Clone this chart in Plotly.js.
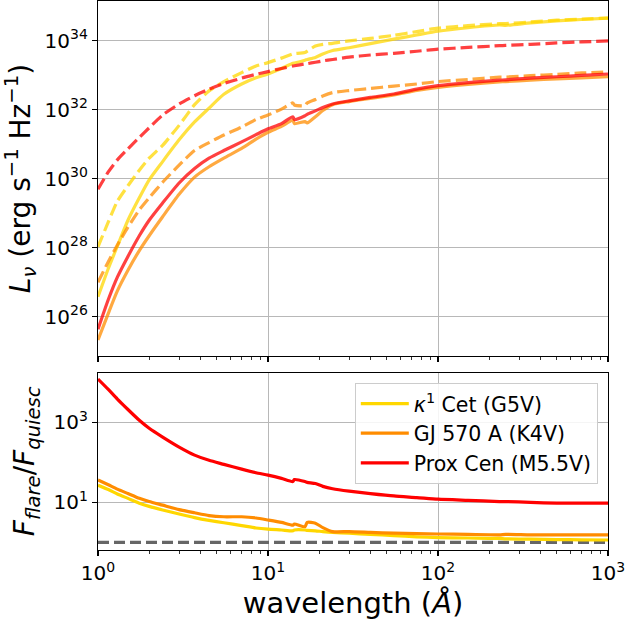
<!DOCTYPE html>
<html>
<head>
<meta charset="utf-8">
<script src="https://cdn.plot.ly/plotly-3.0.1.min.js"></script>
<style>html,body{margin:0;padding:0;background:#fff;}#chart{width:627px;height:626px;}</style>
</head>
<body>
<div id="chart"></div>
<script>
// wavelength grid (Angstrom)
const wavelength = [1, 1.15, 1.3, 1.5, 1.75, 2, 2.4, 3, 3.7, 4.5, 5.5, 7, 8.5, 10, 12, 14, 14.3, 16.5, 17, 19, 21, 24, 30, 40, 55, 75, 100, 150, 230, 250, 350, 500, 700, 1000];

// log10 of L_nu (erg s^-1 Hz^-1)
const logL_k1cet_quiesc = [26.58, 27.4, 28.05, 28.8, 29.45, 29.97, 30.5, 31.13, 31.65, 32.05, 32.45, 32.75, 32.93, 33.04, 33.2, 33.35, 33.36, 33.44, 33.46, 33.52, 33.62, 33.72, 33.80, 33.92, 34.05, 34.17, 34.28, 34.38, 34.46, 34.45, 34.52, 34.58, 34.62, 34.66];
const logL_k1cet_flare  = [28.03, 28.75, 29.35, 29.8, 30.25, 30.6, 30.97, 31.55, 32.15, 32.55, 32.82, 33.08, 33.27, 33.37, 33.5, 33.62, 33.63, 33.66, 33.7, 33.85, 33.9, 33.93, 34.0, 34.07, 34.16, 34.27, 34.37, 34.44, 34.50, 34.50, 34.55, 34.6, 34.63, 34.66];
const logL_gj570_quiesc = [25.33, 26.1, 26.75, 27.35, 27.92, 28.35, 28.9, 29.55, 30.05, 30.35, 30.6, 30.88, 31.15, 31.35, 31.52, 31.7, 31.6, 31.66, 31.62, 31.8, 31.98, 32.15, 32.24, 32.33, 32.43, 32.56, 32.65, 32.74, 32.81, 32.82, 32.86, 32.9, 32.93, 32.96];
const logL_gj570_flare  = [27.0, 27.6, 28.08, 28.6, 29.1, 29.45, 29.9, 30.4, 30.82, 31.05, 31.27, 31.5, 31.72, 31.85, 32.02, 32.2, 32.14, 32.12, 32.2, 32.3, 32.4, 32.5, 32.56, 32.62, 32.69, 32.75, 32.82, 32.88, 32.95, 32.95, 32.99, 33.03, 33.07, 33.10];
const logL_prox_quiesc  = [25.64, 26.5, 27.15, 27.75, 28.35, 28.8, 29.3, 29.88, 30.3, 30.6, 30.82, 31.07, 31.28, 31.45, 31.6, 31.8, 31.72, 31.83, 31.87, 31.97, 32.07, 32.17, 32.26, 32.36, 32.46, 32.6, 32.7, 32.79, 32.86, 32.87, 32.92, 32.96, 33.0, 33.04];
const logL_prox_flare   = [29.7, 30.2, 30.55, 30.87, 31.2, 31.48, 31.85, 32.17, 32.41, 32.6, 32.76, 32.92, 33.03, 33.11, 33.2, 33.27, 33.28, 33.33, 33.34, 33.38, 33.42, 33.46, 33.53, 33.59, 33.64, 33.7, 33.76, 33.81, 33.86, 33.87, 33.9, 33.94, 33.97, 34.0];

// log10 of F_flare / F_quiesc
const logRatio_k1cet = [1.43, 1.32, 1.21, 1.1, 0.98, 0.9, 0.81, 0.71, 0.62, 0.55, 0.49, 0.42, 0.36, 0.33, 0.31, 0.29, 0.31, 0.31, 0.30, 0.29, 0.27, 0.25, 0.23, 0.2, 0.17, 0.14, 0.12, 0.11, 0.1, 0.09, 0.08, 0.07, 0.065, 0.06];
const logRatio_gj570 = [1.56, 1.44, 1.33, 1.22, 1.1, 1.02, 0.93, 0.82, 0.74, 0.67, 0.64, 0.64, 0.61, 0.56, 0.5, 0.43, 0.46, 0.39, 0.5, 0.48, 0.37, 0.27, 0.27, 0.25, 0.23, 0.22, 0.21, 0.2, 0.19, 0.2, 0.19, 0.19, 0.19, 0.19];
const logRatio_prox  = [4.08, 3.82, 3.58, 3.32, 3.05, 2.85, 2.63, 2.38, 2.18, 2.05, 1.95, 1.83, 1.74, 1.68, 1.6, 1.52, 1.57, 1.52, 1.5, 1.47, 1.4, 1.34, 1.28, 1.22, 1.16, 1.12, 1.08, 1.05, 1.02, 1.02, 1.0, 0.98, 0.98, 0.98];

// reference line (ratio = 1)
const unity_x = [1, 1000];
const unity_y = [1, 1];

const starNames = ['<i>κ</i><sup>1</sup> Cet (G5V)', 'GJ 570 A (K4V)', 'Prox Cen (M5.5V)'];
const starColors = ['#FFD700', '#FF8C00', '#FF0000'];

const xTickVals = [1, 10, 100, 1000];
const xTickText = ['10<sup>0</sup>', '10<sup>1</sup>', '10<sup>2</sup>', '10<sup>3</sup>'];
const yTopTickVals = [1e26, 1e28, 1e30, 1e32, 1e34];
const yTopTickText = ['10<sup>26</sup>', '10<sup>28</sup>', '10<sup>30</sup>', '10<sup>32</sup>', '10<sup>34</sup>'];
const yBotTickVals = [10, 1000];
const yBotTickText = ['10<sup>1</sup>', '10<sup>3</sup>'];
const xMinorVals = [2,3,4,5,6,7,8,9,20,30,40,50,60,70,80,90,200,300,400,500,600,700,800,900];

const pow10 = a => a.map(v => Math.pow(10, v));

const quiesc = [logL_k1cet_quiesc, logL_gj570_quiesc, logL_prox_quiesc];
const flare = [logL_k1cet_flare, logL_gj570_flare, logL_prox_flare];
const ratio = [logRatio_k1cet, logRatio_gj570, logRatio_prox];

const LW = 3.2;
const traces = [];
for (let i = 0; i < 3; i++) {
  traces.push({x: wavelength, y: pow10(quiesc[i]), xaxis: 'x', yaxis: 'y', mode: 'lines', showlegend: false,
    opacity: 0.75, line: {color: starColors[i], width: LW, shape: 'spline', smoothing: 0.6}});
  traces.push({x: wavelength, y: pow10(flare[i]), xaxis: 'x', yaxis: 'y', mode: 'lines', showlegend: false,
    opacity: 0.75, line: {color: starColors[i], width: LW, dash: '12px,5px', shape: 'spline', smoothing: 0.6}});
}
traces.push({x: unity_x, y: unity_y, xaxis: 'x2', yaxis: 'y2', mode: 'lines', showlegend: false,
  line: {color: '#666666', width: LW, dash: '11px,5px'}});
for (let i = 0; i < 3; i++) {
  traces.push({x: wavelength, y: pow10(ratio[i]), xaxis: 'x2', yaxis: 'y2', mode: 'lines', name: starNames[i],
    line: {color: starColors[i], width: LW, shape: 'spline', smoothing: 0.6}});
}

const font = {family: 'DejaVu Sans', size: 20, color: '#000'};
const commonAxis = {
  showline: true, mirror: true, linecolor: '#000', linewidth: 1.1,
  ticks: 'outside', ticklen: 5, tickwidth: 1.1, tickcolor: '#000',
  showgrid: true, gridcolor: '#b8b8b8', gridwidth: 1, zeroline: false,
  tickfont: {family: 'DejaVu Sans', size: 20, color: '#000'}
};
const xMinor = {tickmode: 'array', tickvals: xMinorVals, ticks: 'outside', ticklen: 3, tickwidth: 0.8, tickcolor: '#000', showgrid: false};

const layout = {
  width: 627, height: 626,
  margin: {l: 98, r: 19, t: 1, b: 76},
  paper_bgcolor: '#fff', plot_bgcolor: '#fff',
  font: font,
  showlegend: true,
  xaxis: Object.assign({}, commonAxis, {type: 'log', range: [0, 3], domain: [0, 1], anchor: 'y',
    tickmode: 'array', tickvals: xTickVals, ticktext: xTickText, showticklabels: false, minor: xMinor}),
  yaxis: Object.assign({}, commonAxis, {type: 'log', range: [24.864, 35.156], domain: [0.3534, 1], anchor: 'x',
    tickmode: 'array', tickvals: yTopTickVals, ticktext: yTopTickText,
    title: {text: '<i>L</i><sub><i>ν</i></sub> (erg s<sup>−1</sup> Hz<sup>−1</sup>)', font: {family: 'DejaVu Sans', size: 28, color: '#000'}, standoff: 6}}),
  xaxis2: Object.assign({}, commonAxis, {type: 'log', range: [0, 3], domain: [0, 1], anchor: 'y2',
    tickmode: 'array', tickvals: xTickVals, ticktext: xTickText, minor: xMinor,
    title: {text: 'wavelength (<i>Å</i>)', font: {family: 'DejaVu Sans', size: 29, color: '#000'}, standoff: 8}}),
  yaxis2: Object.assign({}, commonAxis, {type: 'log', range: [-0.19, 4.24], domain: [0, 0.323], anchor: 'x2',
    tickmode: 'array', tickvals: yBotTickVals, ticktext: yBotTickText,
    title: {text: '<i>F</i><sub><i>flare</i></sub>/<i>F</i><sub><i>quiesc</i></sub>', font: {family: 'DejaVu Sans', size: 28, color: '#000'}, standoff: 10}}),
  legend: {x: 0.98, xanchor: 'right', y: 0.3047, yanchor: 'top',
    bgcolor: 'rgba(255,255,255,0.85)', bordercolor: '#cccccc', borderwidth: 1,
    itemwidth: 48,
    font: {family: 'DejaVu Sans', size: 20.5, color: '#000'}, tracegroupgap: 0}
};

Plotly.newPlot('chart', traces, layout, {displayModeBar: false, staticPlot: true});
</script>
</body>
</html>
